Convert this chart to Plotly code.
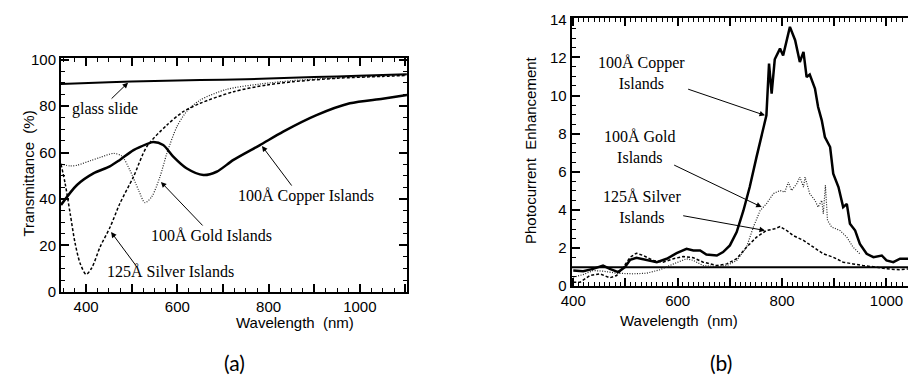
import plotly.graph_objects as go

# ---------------- Panel (a): Transmittance ----------------
a_glass_wl = [345, 450, 550, 650, 750, 850, 950, 1050, 1103]
a_glass_T = [89.5, 90.3, 90.8, 91.2, 91.6, 92.2, 92.8, 93.4, 93.7]

a_copper_wl = [345, 380, 416, 452, 474, 504, 533, 547, 569, 591, 620, 657, 686, 723, 781, 832, 905, 978, 1050, 1103]
a_copper_T = [37.4, 46, 51, 54, 56.8, 61, 63.6, 64.5, 63.2, 58.2, 53.2, 50.3, 51.7, 56.8, 63.2, 69, 76.1, 81.2, 83.2, 84.8]

a_gold_wl = [345, 365, 380, 410, 431, 460, 478, 496, 515, 529, 544, 562, 577, 599, 620, 650, 708, 781, 854, 950, 1050, 1103]
a_gold_T = [55, 54.2, 54.5, 56.5, 57.9, 59.6, 58.5, 52.4, 43.8, 38.4, 41, 49.6, 59.6, 71.1, 77.6, 82.6, 87.2, 89.5, 91, 92.2, 93, 93.4]

a_silver_wl = [345, 354, 365, 376, 387, 400, 412, 431, 453, 474, 504, 533, 577, 613, 650, 723, 796, 854, 950, 1050, 1103]
a_silver_T = [55, 46.7, 33.8, 20.8, 12.2, 7.5, 10.1, 19.4, 28, 38, 49.6, 62.5, 71.8, 77.6, 81.2, 86.2, 89.1, 90.5, 92, 92.8, 93.2]

# ---------------- Panel (b): Photocurrent enhancement ----------------
b_ref_wl = [397, 1042]
b_ref_E = [1.0, 1.0]

b_copper_wl = [400, 419, 438, 457, 470, 486, 499, 509, 521, 540, 560, 579, 598, 617, 630, 643, 655, 675, 687, 700,
               713, 726, 738, 751, 761, 770, 775, 780, 786, 796, 802, 815, 825, 834, 841, 847, 853, 863, 869, 876,
               882, 892, 898, 908, 917, 924, 930, 940, 949, 962, 975, 991, 1000, 1013, 1026, 1042]
b_copper_E = [0.82, 0.79, 0.91, 1.08, 0.91, 0.74, 1.0, 1.38, 1.49, 1.38, 1.26, 1.44, 1.73, 1.96, 1.87, 1.87, 1.66, 1.61, 1.79, 2.14,
              2.84, 3.97, 5.2, 6.77, 8.0, 8.96, 11.67, 10.1, 11.9, 12.46, 12.1, 13.6, 12.9, 11.76, 12.29, 10.97, 11.1, 10.36, 9.4, 8.7,
              7.82, 7.3, 5.9, 5.2, 4.15, 4.32, 3.27, 2.92, 2.22, 1.7, 1.52, 1.61, 1.35, 1.26, 1.44, 1.44]

b_gold_wl = [400, 419, 438, 457, 483, 515, 540, 566, 592, 617, 630, 649, 675, 694, 713, 732, 745, 758, 770, 783,
             796, 805, 812, 818, 828, 834, 841, 844, 853, 863, 869, 876, 879, 883, 887, 895, 911, 924, 936, 949]
b_gold_E = [0.47, 0.61, 0.82, 0.79, 0.68, 0.65, 0.68, 0.86, 1.17, 1.44, 1.35, 1.08, 1.03, 1.08, 1.35, 2.05, 3.1, 3.97, 4.32, 4.85,
            5.02, 4.93, 5.46, 5.02, 5.37, 5.72, 5.2, 5.72, 4.85, 4.5, 4.15, 4.5, 3.8, 5.29, 3.45, 3.1, 2.92, 2.57, 2.05, 1.7]

b_silver_wl = [400, 413, 432, 451, 470, 483, 496, 509, 521, 534, 553, 572, 592, 611, 630, 649, 675, 694, 713, 732,
               751, 770, 786, 796, 809, 821, 841, 860, 879, 898, 917, 936, 955, 981, 1000, 1026, 1042]
b_silver_E = [0.21, 0.21, 0.56, 0.65, 0.44, 0.56, 1.0, 1.52, 1.73, 1.61, 1.35, 1.26, 1.44, 1.56, 1.49, 1.26, 1.08, 1.17, 1.44, 2.05,
              2.57, 2.92, 3.01, 3.13, 2.92, 2.66, 2.4, 2.05, 1.7, 1.52, 1.26, 1.17, 1.08, 1.0, 0.91, 0.86, 0.91]

a_xticks = [400, 500, 600, 700, 800, 900, 1000, 1100]
a_xlabels = ["400", "", "600", "", "800", "", "1000", ""]
a_yticks = [0, 20, 40, 60, 80, 100]
b_xticks = [400, 500, 600, 700, 800, 900, 1000]
b_xlabels = ["400", "", "600", "", "800", "", "1000"]
b_yticks = [0, 2, 4, 6, 8, 10, 12, 14]

SANS = "Liberation Sans"
SERIF = "Liberation Serif"

fig = go.Figure()

def line(x, y, xa, ya, width, dash="solid", color="black", shape="linear"):
    fig.add_trace(go.Scatter(x=x, y=y, mode="lines", xaxis=xa, yaxis=ya, showlegend=False,
                             line=dict(color=color, width=width, dash=dash, shape=shape, smoothing=0.8),
                             hoverinfo="skip"))

line(a_glass_wl, a_glass_T, "x", "y", 2.0, shape="spline")
line(a_gold_wl, a_gold_T, "x", "y", 1.2, "1px,1.5px", "#222", shape="spline")
line(a_silver_wl, a_silver_T, "x", "y", 1.5, "3px,2px", shape="spline")
line(a_copper_wl, a_copper_T, "x", "y", 2.5, shape="spline")

line(b_ref_wl, b_ref_E, "x2", "y2", 2.0)
line(b_gold_wl, b_gold_E, "x2", "y2", 1.2, "1px,1.5px", "#222")
line(b_silver_wl, b_silver_E, "x2", "y2", 1.5, "3px,2px")
line(b_copper_wl, b_copper_E, "x2", "y2", 2.5)

tickfont = dict(family=SANS, size=15, color="black")
common = dict(showgrid=False, zeroline=False, showline=True, linecolor="black", linewidth=2,
              automargin=False, ticks="inside", tickcolor="black", tickwidth=2, ticklen=8,
              tickfont=tickfont, layer="above traces")

def minor(step):
    return dict(dtick=step, tick0=0, ticks="inside", ticklen=4, tickcolor="black", tickwidth=1.2)

fig.update_layout(
    template="none",
    width=908, height=391, autosize=False,
    margin=dict(l=0, r=0, t=0, b=0, pad=0),
    paper_bgcolor="white", plot_bgcolor="white",
    xaxis=dict(domain=[61 / 908, 407.3 / 908], range=[345, 1104], anchor="y",
               tickmode="array", tickvals=a_xticks, ticktext=a_xlabels, mirror="allticks",
               minor=minor(25), **common),
    yaxis=dict(domain=[1 - 291.7 / 391, 1 - 58.3 / 391], range=[0, 100.6], anchor="x",
               tickmode="array", tickvals=a_yticks, mirror="allticks",
               minor=minor(5), **common),
    xaxis2=dict(domain=[571.7 / 908, 1.0], range=[397, 1041.2], anchor="y2",
                tickmode="array", tickvals=b_xticks, ticktext=b_xlabels, mirror="allticks",
                minor=minor(10), **common),
    yaxis2=dict(domain=[1 - 286.2 / 391, 1 - 18.3 / 391], range=[0, 14.05], anchor="x2",
                tickmode="array", tickvals=b_yticks, mirror=False,
                minor=minor(0.5), **common),
)

ann = []
# axis titles
ann.append(dict(xref="paper", yref="paper", x=17 / 908, y=1 - 174 / 391, text="Transmittance  (%)",
                textangle=-90, showarrow=False, font=dict(family=SANS, size=15, color="black")))
ann.append(dict(xref="paper", yref="paper", x=234 / 908, y=1 - 333 / 391, text="Wavelength  (nm)",
                showarrow=False, font=dict(family=SANS, size=15, color="black")))
ann.append(dict(xref="paper", yref="paper", x=531 / 908, y=1 - 150 / 391, text="Photocurrent  Enhancement",
                textangle=-90, showarrow=False, font=dict(family=SANS, size=15, color="black")))
ann.append(dict(xref="paper", yref="paper", x=740 / 908, y=1 - 331 / 391, text="Wavelength  (nm)",
                showarrow=False, font=dict(family=SANS, size=15, color="black")))
# panel labels
ann.append(dict(xref="paper", yref="paper", x=222 / 908, y=1 - 377 / 391, text="(a)",
                showarrow=False, font=dict(family="Lato", size=21, color="black")))
ann.append(dict(xref="paper", yref="paper", x=734 / 908, y=1 - 377 / 391, text="(b)",
                showarrow=False, font=dict(family="Lato", size=21, color="black")))

def label(xa, ya, x, y, text):
    ann.append(dict(xref=xa, yref=ya, x=x, y=y, text=text, showarrow=False,
                    font=dict(family=SERIF, size=16, color="black")))

def arrow(xa, ya, x0, y0, x1, y1):
    ann.append(dict(xref=xa, yref=ya, axref=xa, ayref=ya, x=x1, y=y1, ax=x0, ay=y0, text="",
                    showarrow=True, arrowhead=2, arrowsize=1.1, arrowwidth=1, arrowcolor="black"))

label("x", "y", 441.6, 78.7, "glass slide")
arrow("x", "y", 452.6, 82.6, 492, 90.1)
label("x", "y", 882, 41.3, "100Å Copper Islands")
arrow("x", "y", 853, 45.1, 785.5, 62.8)
label("x", "y", 674, 24.4, "100Å Gold Islands")
arrow("x", "y", 658.5, 27.9, 564, 47.3)
label("x", "y", 584, 8.9, "125Å Silver Islands")
arrow("x", "y", 511.7, 10.6, 454.8, 25.7)

label("x2", "y2", 531, 11.2, "100Å Copper<br>Islands")
arrow("x2", "y2", 617.2, 10.36, 767.2, 8.96)
label("x2", "y2", 528, 7.28, "100Å Gold<br>Islands")
arrow("x2", "y2", 590.4, 6.39, 760.9, 4.15)
label("x2", "y2", 531, 4.13, "125Å Silver<br>Islands")
arrow("x2", "y2", 607.7, 3.71, 767.2, 2.92)

fig.update_layout(annotations=ann)
fig.write_html("out.html", config={"displayModeBar": False},
               post_script="document.body.style.margin='0';")
